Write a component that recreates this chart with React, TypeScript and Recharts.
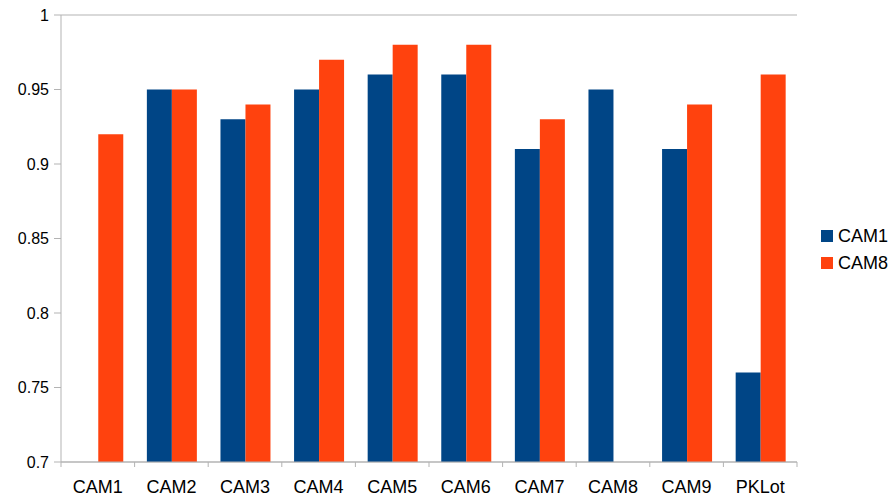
import React from "react";
import { BarChart, Bar, XAxis, YAxis, CartesianGrid, Legend } from "recharts";

const categories = ["CAM1", "CAM2", "CAM3", "CAM4", "CAM5", "CAM6", "CAM7", "CAM8", "CAM9", "PKLot"];
const cam1Values: (number | null)[] = [null, 0.95, 0.93, 0.95, 0.96, 0.96, 0.91, 0.95, 0.91, 0.76];
const cam8Values: (number | null)[] = [0.92, 0.95, 0.94, 0.97, 0.98, 0.98, 0.93, null, 0.94, 0.96];
const yTicks = [0.7, 0.75, 0.8, 0.85, 0.9, 0.95, 1];
const seriesNames = ["CAM1", "CAM8"];
const seriesColors = ["#004586", "#ff420e"];

const data = categories.map((c, i) => ({ name: c, cam1: cam1Values[i], cam8: cam8Values[i] }));

const FONT = "'Liberation Sans', Arial, sans-serif";
const GRID = "#b3b3b3";
const X_TICK_SIZE = 5;
const X_TICK_MARGIN = 13;

const XTick = (props: any) => {
  const { x, y, payload, index, visibleTicksCount } = props;
  const axisY = y - X_TICK_SIZE - X_TICK_MARGIN;
  const half = payload.offset || 0;
  const left = payload.coordinate - half;
  const right = payload.coordinate + half;
  return (
    <g>
      <line x1={left} x2={left} y1={axisY} y2={axisY + X_TICK_SIZE} stroke={GRID} strokeWidth={1} />
      {index === visibleTicksCount - 1 && (
        <line x1={right} x2={right} y1={axisY} y2={axisY + X_TICK_SIZE} stroke={GRID} strokeWidth={1} />
      )}
      <text x={x} y={y} dy="0.71em" textAnchor="middle" fill="#000" fontSize={18} fontFamily={FONT}>
        {payload.value}
      </text>
    </g>
  );
};

const renderLegend = () => (
  <div style={{ paddingLeft: 24, fontFamily: FONT, fontSize: 18, color: "#000", whiteSpace: "nowrap" }}>
    {seriesNames.map((n, i) => (
      <div key={n} style={{ display: "flex", alignItems: "center", height: 27 }}>
        <span
          style={{ display: "inline-block", width: 12, height: 12, flexShrink: 0, background: seriesColors[i], marginRight: 5 }}
        />
        <span style={{ flexShrink: 0 }}>{n}</span>
      </div>
    ))}
  </div>
);

export default function App() {
  return (
    <div style={{ position: "absolute", left: 0, top: 0, background: "#fff" }}>
      <BarChart
        width={896}
        height={499}
        data={data}
        margin={{ top: 15, right: 24, bottom: 0, left: 0 }}
        barCategoryGap="16.67%"
        barGap={0}
      >
        <CartesianGrid vertical={false} stroke={GRID} strokeDasharray="" />
        <XAxis
          dataKey="name"
          height={37}
          axisLine={{ stroke: GRID }}
          tickLine={false}
          tickSize={X_TICK_SIZE}
          tickMargin={X_TICK_MARGIN}
          tick={<XTick />}
          interval={0}
        />
        <YAxis
          yAxisId="left"
          width={61}
          domain={[0.7, 1]}
          ticks={yTicks}
          type="number"
          axisLine={{ stroke: GRID }}
          tickLine={{ stroke: GRID }}
          tickSize={7}
          tickMargin={5}
          tick={{ fill: "#000", fontSize: 16, fontFamily: FONT }}
          tickFormatter={(v: number) => String(v)}
        />
        <YAxis
          yAxisId="right"
          orientation="right"
          width={0}
          domain={[0.7, 1]}
          type="number"
          axisLine={{ stroke: GRID }}
          tickLine={false}
          tick={false}
        />
        <Legend
          layout="vertical"
          align="right"
          verticalAlign="middle"
          content={renderLegend}
          wrapperStyle={{ width: 75, overflow: "visible" }}
        />
        <Bar yAxisId="left" dataKey="cam1" name="CAM1" fill={seriesColors[0]} isAnimationActive={false} />
        <Bar yAxisId="left" dataKey="cam8" name="CAM8" fill={seriesColors[1]} isAnimationActive={false} />
      </BarChart>
    </div>
  );
}
